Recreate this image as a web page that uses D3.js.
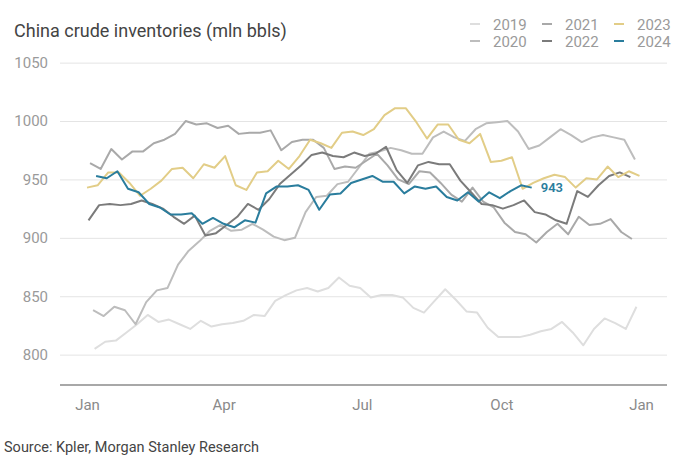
<!DOCTYPE html>
<html>
<head>
<meta charset="utf-8">
<script src="https://cdn.jsdelivr.net/npm/d3@7"></script>
<style>
  html, body { margin: 0; padding: 0; background: #fff; }
  svg { display: block; font-family: Roboto, "Liberation Sans", Arial, sans-serif; }
</style>
</head>
<body>
<svg id="chart" width="678" height="465"></svg>
<script>
// ---------------- data ----------------
const years = ["2019", "2020", "2021", "2022", "2023", "2024"];
const firstSundays = ["2019-01-06", "2020-01-05", "2021-01-03", "2022-01-02", "2023-01-01", "2024-01-07"];

const v2019 = [805, 811, 812, 819, 826, 834, 828, 830, 826, 822, 829, 824, 826, 827, 829, 834,
  833, 846, 851, 855, 857, 854, 857, 866, 859, 857, 849, 851, 851, 849, 840, 836,
  846, 856, 847, 837, 836, 823, 815, 815, 815, 817, 820, 822, 828, 819, 808, 822,
  831, 827, 822, 841];
const v2020 = [838, 833, 841, 838, 826, 845, 855, 857, 877, 889, 897, 906, 911, 906, 907, 912,
  907, 901, 898, 900, 922, 935, 936, 946, 948, 960, 972, 974, 977, 975, 972, 972,
  986, 991, 986, 983, 993, 998, 999, 1000, 991, 976, 979, 986, 993, 988, 982, 986,
  988, 986, 984, 967];
const v2021 = [964, 959, 976, 967, 974, 974, 981, 984, 989, 1000, 997, 998, 994, 996, 989, 990,
  990, 992, 975, 982, 984, 984, 977, 959, 961, 960, 966, 972, 962, 950, 946, 957,
  956, 947, 937, 931, 943, 931, 926, 913, 905, 903, 896, 905, 912, 903, 918, 911,
  912, 916, 905, 899];
const v2022 = [915, 928, 929, 928, 929, 932, 929, 925, 918, 912, 919, 902, 904, 911, 918, 929,
  924, 933, 946, 954, 962, 971, 973, 970, 969, 973, 970, 972, 978, 958, 947, 962,
  965, 963, 963, 949, 939, 929, 928, 925, 928, 932, 922, 920, 915, 912, 940, 935,
  945, 953, 956, 952];
const v2023 = [943, 945, 956, 956, 947, 936, 942, 949, 959, 960, 951, 963, 960, 970, 945, 941,
  956, 957, 966, 959, 970, 984, 981, 977, 990, 991, 988, 993, 1005, 1011, 1011, 999,
  985, 997, 997, 984, 981, 989, 965, 966, 969, 942, 947, 951, 954, 952, 943, 951,
  950, 961, 952, 957, 953];
const v2024 = [953, 951, 957, 942, 939, 929, 926, 920, 920, 921, 912, 917, 912, 909, 915, 913,
  938, 944, 944, 945, 941, 924, 937, 938, 947, 950, 953, 948, 948, 938, 944, 942,
  944, 935, 932, 939, 931, 939, 934, 940, 945, 943];
const seriesValues = [v2019, v2020, v2021, v2022, v2023, v2024];

const yTicks = [800, 850, 900, 950, 1000, 1050];
const xTickLabels = ["Jan", "Apr", "Jul", "Oct", "Jan"];
const xTickDays = [0, 90, 181, 273, 365];

const titleText = "China crude inventories (mln bbls)";
const sourceText = "Source: Kpler, Morgan Stanley Research";
const colors = ["#dedede", "#bdbdbd", "#a9a9a9", "#7b7b7b", "#e2cd87", "#2a7d9d"];

// ---------------- build ----------------
const svg = d3.select("#chart");
const plotLeft = 60, plotRight = 667, plotTop = 63, plotBottom = 385;

const x = d3.scaleLinear().domain([0, 365]).range([87, 641]);
const y = d3.scaleLinear().domain([774, 1050]).range([plotBottom, 385 - (1050 - 774) * (292 / 250)]);

// title
svg.append("text").attr("x", 14).attr("y", 37)
  .attr("font-size", 18).attr("fill", "#444").text(titleText);

// y grid + labels
const yAxis = d3.axisLeft(y).tickValues(yTicks).tickSize(-(plotRight - plotLeft)).tickPadding(12)
  .tickFormat(d3.format("d"));
const gy = svg.append("g").attr("transform", `translate(${plotLeft},0)`).call(yAxis);
gy.select(".domain").remove();
gy.selectAll(".tick line").attr("stroke", "#e4e4e4").attr("stroke-width", 1);
gy.selectAll(".tick text").attr("fill", "#9a9a9a").attr("font-size", 15)
  .attr("font-family", "Roboto, 'Liberation Sans', Arial, sans-serif");

// x axis
const xAxis = d3.axisBottom(x).tickValues(xTickDays).tickSize(0).tickPadding(14)
  .tickFormat((d, i) => xTickLabels[i]);
const gx = svg.append("g").attr("transform", `translate(0,${plotBottom})`).call(xAxis);
gx.select(".domain").remove();
gx.selectAll(".tick text").attr("fill", "#8a8a8a").attr("font-size", 15)
  .attr("font-family", "Roboto, 'Liberation Sans', Arial, sans-serif");
svg.append("line").attr("x1", plotLeft).attr("x2", plotRight)
  .attr("y1", plotBottom).attr("y2", plotBottom)
  .attr("stroke", "#a8a8a8").attr("stroke-width", 2);

// lines
const parse = d3.utcParse("%Y-%m-%d");
const line = d3.line().x(d => x(d.day)).y(d => y(d.value));
const series = years.map((yr, k) => {
  const start = parse(firstSundays[k]);
  const d0 = d3.utcDay.count(d3.utcYear(start), start);
  return { year: yr, color: colors[k],
    points: seriesValues[k].map((v, i) => ({ day: d0 + 7 * i, value: v })) };
});
svg.append("g").selectAll("path").data(series).join("path")
  .attr("d", s => line(s.points))
  .attr("fill", "none")
  .attr("stroke", s => s.color)
  .attr("stroke-width", 2)
  .attr("stroke-linejoin", "round");

// end label for 2024
const last = series[5].points[series[5].points.length - 1];
svg.append("text").attr("x", x(last.day) + 9).attr("y", y(last.value) + 4.5)
  .attr("font-size", 13).attr("font-weight", 600).attr("fill", colors[5])
  .text(d3.format("d")(last.value));

// legend (3 columns x 2 rows)
const lg = svg.append("g");
years.forEach((yr, k) => {
  const col = Math.floor(k / 2), row = k % 2;
  const lx = 470 + col * 72, ly = 24 + row * 17;
  lg.append("line").attr("x1", lx).attr("x2", lx + 10).attr("y1", ly).attr("y2", ly)
    .attr("stroke", colors[k]).attr("stroke-width", 2);
  lg.append("text").attr("x", lx + 23).attr("y", ly + 5.5).attr("font-size", 15)
    .attr("fill", "#9a9a9a").text(yr);
});

// source
svg.append("text").attr("x", 4).attr("y", 452).attr("font-size", 14.5)
  .attr("fill", "#444").text(sourceText);
</script>
</body>
</html>
